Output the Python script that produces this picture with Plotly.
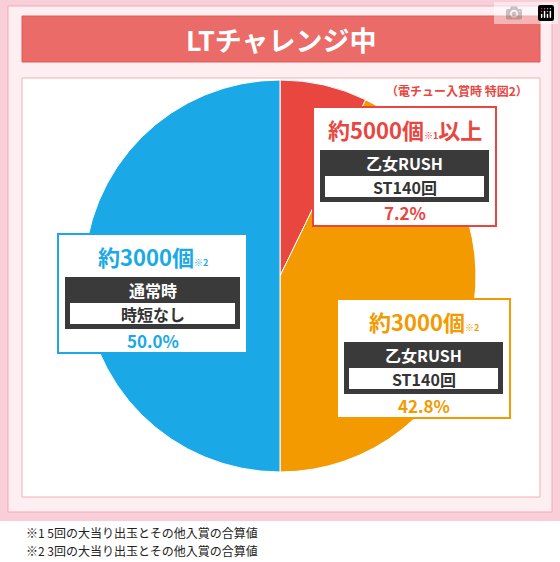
import plotly.graph_objects as go

labels = ["乙女RUSH ST140回 (約5000個以上)", "乙女RUSH ST140回 (約3000個)", "通常時 時短なし (約3000個)"]
values = [7.2, 42.8, 50.0]
colors = ["#e8463f", "#f39a00", "#1aa9e6"]

W, H = 560, 562
def X(x): return x / W
def Y(y): return 1 - y / H

F = "Noto Sans CJK JP"
fig = go.Figure(go.Pie(labels=labels, values=values, sort=False, direction="clockwise",
                       rotation=0, marker=dict(colors=colors, line=dict(color="white", width=1)),
                       textinfo="none", hoverinfo="label+percent",
                       domain=dict(x=[X(84), X(476)], y=[Y(472), Y(80)])))

shapes = []
ann = []
def rect(x0, y0, x1, y1, fill, line=None, lw=0, layer="below"):
    shapes.append(dict(type="rect", xref="paper", yref="paper", x0=X(x0), x1=X(x1), y0=Y(y1), y1=Y(y0),
                       fillcolor=fill, line=dict(color=line or fill, width=lw), layer=layer))
def text(x, y, t, size, color, xa="center"):
    ann.append(dict(x=X(x), y=Y(y), xref="paper", yref="paper", text=t, showarrow=False, xanchor=xa,
                    yanchor="middle", font=dict(family=F, size=size, color=color)))

# background
rect(0, 0, 560, 521, "#f8cfd9")
rect(8, 6, 552, 512, "#fdeef2", "#f2a9b8", 1)
rect(22, 16, 540, 62, "#eb6b68", "#e35a57", 1)
rect(22, 78, 540, 497, "#ffffff", "#f2b0b0", 1)
text(281, 40, "<b>LTチャレンジ中</b>", 27, "white")
text(530, 90, "<b>（電チュー入賞時 特図2）</b>", 12, "#e8463f", "right")

def box(x0, y0, x1, y1, col, head, l1, l2, pct):
    rect(x0, y0, x1, y1, "white", col, 2, "above")
    rect(x0 + 7, y0 + 43, x1 - 7, y0 + 95, "#3a3a3a", layer="above")
    rect(x0 + 12, y0 + 69, x1 - 12, y0 + 90, "white", layer="above")
    text((x0 + x1) / 2, y0 + 22, head, 22, col)
    text((x0 + x1) / 2, y0 + 56, "<b>" + l1 + "</b>", 16, "white")
    text((x0 + x1) / 2, y0 + 80, "<b>" + l2 + "</b>", 16, "#333333")
    text((x0 + x1) / 2, y0 + 106, "<b>" + pct + "</b>", 17, col)

sup1 = "<span style='font-size:9px'><b>※1</b></span>"
sup2 = "<span style='font-size:9px'><b>※2</b></span>"
box(313, 107, 496, 226, colors[0], "<b>約5000個</b>" + sup1 + "<b>以上</b>", "乙女RUSH", "ST140回", f"{values[0]}%")
box(337, 299, 510, 418, colors[1], "<b>約3000個</b>" + sup2, "乙女RUSH", "ST140回", f"{values[1]}%")
box(58, 234, 247, 353, colors[2], "<b>約3000個</b>" + sup2, "通常時", "時短なし", f"{values[2]:.1f}%")

text(24, 532, "※1 5回の大当り出玉とその他入賞の合算値", 12, "#222222", "left")
text(24, 550, "※2 3回の大当り出玉とその他入賞の合算値", 12, "#222222", "left")

fig.update_layout(width=W, height=H, margin=dict(l=0, r=0, t=0, b=0), showlegend=False,
                  paper_bgcolor="white", shapes=shapes, annotations=ann)
fig.write_html("out.html", post_script="document.body.style.margin='0';document.body.style.overflow='hidden';")
